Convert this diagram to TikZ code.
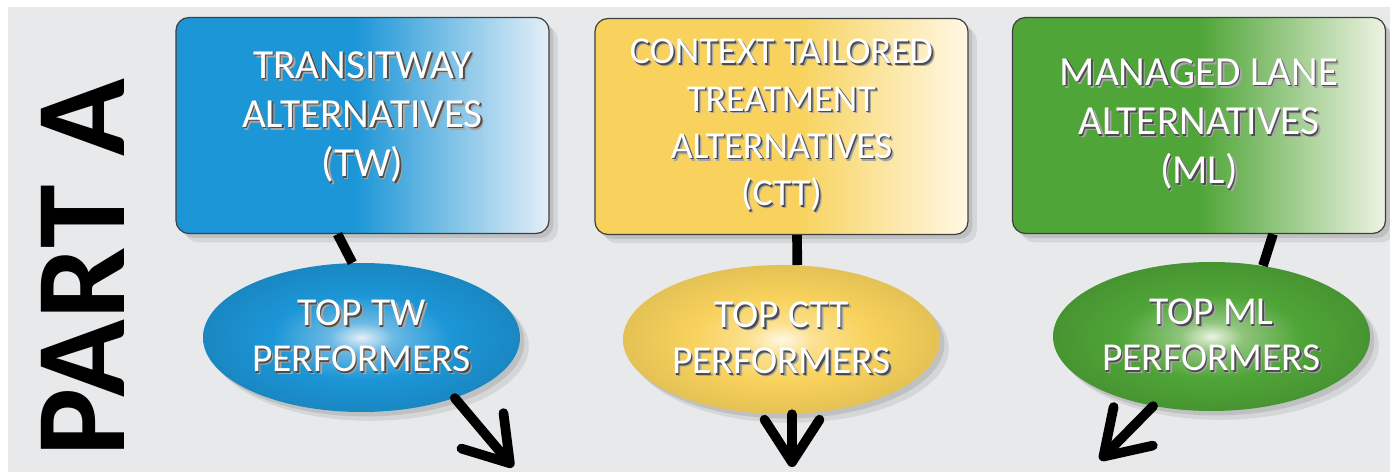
\documentclass[tikz,border=0pt]{standalone}
\usepackage{fontspec}
\setmainfont{Carlito}
\usetikzlibrary{shapes.geometric,shadows,arrows.meta}

\definecolor{bggray}{HTML}{E8E9EB}
\definecolor{twblue}{HTML}{1C96D7}
\definecolor{twpale}{HTML}{E4EFF8}
\definecolor{cttgold}{HTML}{F8D25C}
\definecolor{cttpale}{HTML}{FFF8E4}
\definecolor{mlgreen}{HTML}{4FA537}
\definecolor{mlpale}{HTML}{EDF3E2}

% solid colour on the left half, fading out to the right
\pgfdeclarehorizontalshading{twfade}{100bp}{color(0bp)=(twblue); color(25bp)=(twblue); color(49bp)=(twblue); color(75bp)=(twpale); color(100bp)=(twpale)}
\pgfdeclarehorizontalshading{cttfade}{100bp}{color(0bp)=(cttgold); color(25bp)=(cttgold); color(52bp)=(cttgold); color(75bp)=(cttpale); color(100bp)=(cttpale)}
\pgfdeclarehorizontalshading{mlfade}{100bp}{color(0bp)=(mlgreen); color(25bp)=(mlgreen); color(50bp)=(mlgreen); color(75bp)=(mlpale); color(100bp)=(mlpale)}
% light spot in the middle of the ovals
\pgfdeclareradialshading{twglow}{\pgfpoint{0bp}{0bp}}{color(0bp)=(twpale); color(5bp)=(twpale!40!twblue); color(14bp)=(twblue); color(25bp)=(twblue!90!black); color(50bp)=(twblue!90!black)}
\pgfdeclareradialshading{cttglow}{\pgfpoint{0bp}{0bp}}{color(0bp)=(cttpale); color(5bp)=(cttpale!40!cttgold); color(14bp)=(cttgold); color(25bp)=(cttgold!92!black); color(50bp)=(cttgold!92!black)}
\pgfdeclareradialshading{mlglow}{\pgfpoint{0bp}{0bp}}{color(0bp)=(mlpale); color(5bp)=(mlpale!40!mlgreen); color(14bp)=(mlgreen); color(25bp)=(mlgreen!90!black); color(50bp)=(mlgreen!90!black)}

% white lettering with a dark halo
\newcommand\halo[1]{\leavevmode\rlap{\textcolor{black!35}{\hspace{1.6pt}\raisebox{-1.6pt}{#1}}}\rlap{\textcolor{black!70}{\hspace{0.8pt}\raisebox{-0.8pt}{#1}}}#1}

\tikzset{
  softshadow/.style={drop shadow={opacity=0.18,shadow xshift=5pt,shadow yshift=-5pt},
    drop shadow={opacity=0.25,shadow xshift=2.5pt,shadow yshift=-2.5pt}},
  altbox/.style={draw=black!75,line width=0.7pt,rounded corners=0.26cm,
    minimum width=7.46cm,minimum height=4.32cm,align=center,text=white,
    font=\fontsize{23.5}{28}\selectfont,softshadow},
  topper/.style={ellipse,minimum width=6.34cm,minimum height=2.98cm,inner sep=0pt,
    align=center,text=white,font=\fontsize{22.5}{26}\selectfont,softshadow},
  link/.style={line width=5.5pt,black},
  pointer/.style={link,line cap=round,-{Straight Barb[round,length=0.85cm,width=1.1cm]}},
}

\begin{document}
\begin{tikzpicture}
  \useasboundingbox (0,0) rectangle (27.8,9.44);
  \fill[white] (0,0) rectangle (27.8,9.44);
  \fill[bggray] (0.16,0) rectangle (27.8,9.30);

  \node[font=\bfseries\fontsize{73}{73}\selectfont,rotate=90] (parta) at (1.65,4.09) {PART A};

  % the three families of alternatives
  \node[altbox,shading=twfade,text depth=0.46cm] (tw) at (7.25,6.93) {\halo{TRANSITWAY}\\\halo{ALTERNATIVES}\\\halo{(TW)}};
  \node[altbox,shading=cttfade,font=\fontsize{21.6}{27}\selectfont] (ctt) at (15.63,6.91) {\halo{CONTEXT TAILORED}\\\halo{TREATMENT}\\\halo{ALTERNATIVES}\\\halo{(CTT)}};
  \node[altbox,shading=mlfade] (ml) at (23.98,6.93) {\halo{MANAGED LANE}\\\halo{ALTERNATIVES}\\\halo{(ML)}};

  % best of each family
  \node[topper,shading=twglow] (twtop) at (7.23,2.69) {\halo{TOP TW}\\\halo{PERFORMERS}};
  \node[topper,shading=cttglow] (ctttop) at (15.63,2.65) {\halo{TOP CTT}\\\halo{PERFORMERS}};
  \node[topper,shading=mlglow] (mltop) at (24.23,2.71) {\halo{TOP ML}\\\halo{PERFORMERS}};

  \draw[link] ([xshift=-0.5cm]tw.south) -- (twtop.97);
  \draw[link] ([xshift=0.31cm]ctt.south) -- (ctttop.78);
  \draw[link] ([xshift=1.48cm]ml.south) -- (mltop.54);

  \coordinate (twend) at (10.26,0.10);
  \coordinate (cttend) at (15.84,0.10);
  \coordinate (mlend) at (22.00,0.24);
  \draw[pointer] (twtop.-33) -- (twend);
  \draw[pointer] (ctttop.-82) -- (cttend);
  \draw[pointer] (mltop.230) -- (mlend);
\end{tikzpicture}
\end{document}
